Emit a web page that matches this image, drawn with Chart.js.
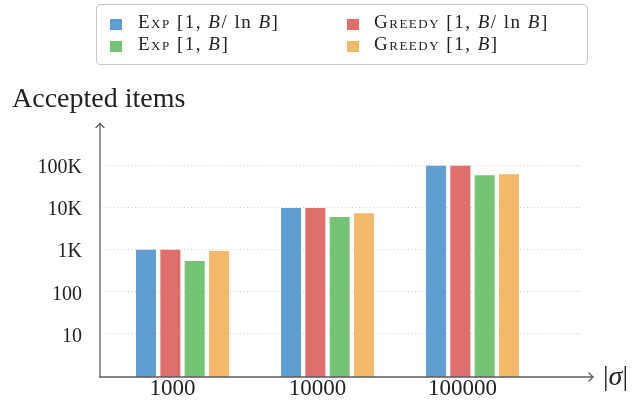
<!DOCTYPE html>
<html>
<head>
<meta charset="utf-8">
<script src="https://cdn.jsdelivr.net/npm/chart.js@4.4.0/dist/chart.umd.min.js"></script>
<style>
html,body{margin:0;padding:0;background:#fff;}
#wrap{position:relative;width:632px;height:403px;overflow:hidden;}
canvas{position:absolute;left:0;top:0;}
#legend{position:absolute;left:96px;top:4px;width:492px;height:61px;border:1px solid #c8c8c8;border-radius:4px;box-sizing:border-box;}
.sw{position:absolute;width:12px;height:11px;}
.lt{position:absolute;font-family:"Liberation Serif",serif;font-size:19px;line-height:19px;letter-spacing:1.5px;color:#222;white-space:nowrap;}
.sc{font-variant:small-caps;}
#xlab{position:absolute;left:603px;top:362px;font-family:"Liberation Serif",serif;font-size:28px;line-height:28px;color:#222;white-space:nowrap;}
</style>
</head>
<body>
<div id="wrap">
  <canvas id="c" width="632" height="403"></canvas>
  <div id="legend"></div>
  <div id="xlab">|<i>σ</i>|</div>
</div>
<script>
// ---- data ----
const categories = ['1000', '10000', '100000'];
const seriesNames = ['Exp [1, B/ ln B]', 'Greedy [1, B/ ln B]', 'Exp [1, B]', 'Greedy [1, B]'];
const expLnB    = [985, 9700, 97000];
const greedyLnB = [985, 9700, 97000];
const expB      = [540, 5900, 58000];
const greedyB   = [930, 7300, 61000];
const yTickValues = [10, 100, 1000, 10000, 100000];
const yTickLabels = ['10', '100', '1K', '10K', '100K'];
const colors = ['#5f9dd3', '#e06e6a', '#75c475', '#f2b96a'];

const seriesValues = [expLnB, greedyLnB, expB, greedyB];
const serif = '"Liberation Serif", "Times New Roman", serif';

const datasets = seriesValues.map((vals, i) => ({
  label: seriesNames[i],
  data: vals.map((v, j) => ({x: j, y: v})),
  backgroundColor: colors[i],
  borderWidth: 0,
  categoryPercentage: 0.671,
  barPercentage: 0.822
}));

const axisArrows = {
  id: 'axisArrows',
  afterDatasetsDraw(chart) {
    const {ctx, chartArea: a} = chart;
    ctx.save();
    ctx.strokeStyle = '#5c5c5c';
    ctx.lineWidth = 1.3;
    ctx.lineCap = 'round';
    const xb = Math.round(a.bottom);
    const xl = a.left;
    ctx.beginPath();
    ctx.moveTo(xl, xb); ctx.lineTo(a.right + 10, xb);
    ctx.stroke();
    ctx.beginPath();
    ctx.moveTo(a.right + 6, xb - 4); ctx.lineTo(a.right + 10, xb); ctx.lineTo(a.right + 6, xb + 4);
    ctx.stroke();
    ctx.beginPath();
    ctx.moveTo(xl, xb); ctx.lineTo(xl, a.top - 0.5);
    ctx.stroke();
    ctx.beginPath();
    ctx.moveTo(xl - 4, a.top + 3.5); ctx.lineTo(xl, a.top - 0.5); ctx.lineTo(xl + 4, a.top + 3.5);
    ctx.stroke();
    ctx.restore();
  }
};

const htmlLegend = {
  id: 'htmlLegend',
  afterUpdate(chart) {
    const box = document.getElementById('legend');
    box.innerHTML = '';
    const colX = [13, 250];
    const textX = [41, 277];
    const rowTop = [14, 35.5];
    const rowText = [6.5, 29.1];
    chart.data.datasets.forEach((ds, i) => {
      const r = Math.floor(i / 2), c = i % 2;
      const sw = document.createElement('div');
      sw.className = 'sw';
      sw.style.left = colX[c] + 'px';
      sw.style.top = rowTop[r] + 'px';
      sw.style.background = ds.backgroundColor;
      box.appendChild(sw);
      const t = document.createElement('div');
      t.className = 'lt';
      t.style.left = textX[c] + 'px';
      t.style.top = rowText[r] + 'px';
      const parts = ds.label.split(' ');
      const name = parts.shift();
      const rest = parts.join(' ').replace(/B/g, '<i>B</i>');
      t.innerHTML = '<span class="sc">' + name + '</span>&nbsp;' + rest;
      box.appendChild(t);
    });
  }
};

new Chart(document.getElementById('c'), {
  type: 'bar',
  data: { datasets },
  options: {
    responsive: false,
    animation: false,
    layout: { padding: { left: 12, right: 49, top: 0, bottom: 0 } },
    plugins: {
      legend: { display: false },
      tooltip: { enabled: false },
      title: {
        display: true,
        text: 'Accepted items',
        align: 'start',
        color: '#222',
        font: { family: serif, size: 28, weight: 'normal' },
        padding: { top: 83, bottom: 7.4 }
      }
    },
    scales: {
      x: {
        type: 'linear',
        bounds: 'data',
        offset: false,
        min: -0.569,
        max: 2.762,
        grid: { display: false, drawTicks: false, offset: false },
        border: { display: false },
        afterBuildTicks: (s) => { s.ticks = categories.map((_, i) => ({ value: i })); },
        afterFit: (s) => { s.height = 26; },
        ticks: {
          padding: -2,
          labelOffset: -10,
          color: '#222',
          font: { family: serif, size: 23 },
          maxRotation: 0,
          callback: (v) => categories[v]
        }
      },
      y: {
        type: 'logarithmic',
        bounds: 'data',
        min: 0.957,
        max: 946000,
        grid: { color: '#cfcfcf', lineWidth: 1, drawTicks: false },
        border: { display: false, dash: [1, 2.5] },
        afterBuildTicks: (s) => { s.ticks = yTickValues.map(v => ({ value: v })); },
        afterFit: (s) => { s.width = 88; s.paddingTop = 0; s.paddingBottom = 0; },
        ticks: {
          padding: 18,
          labelOffset: 2.5,
          color: '#222',
          font: { family: serif, size: 20 },
          callback: (v) => { const k = yTickValues.indexOf(v); return k >= 0 ? yTickLabels[k] : ''; }
        }
      }
    }
  },
  plugins: [axisArrows, htmlLegend]
});
</script>
</body>
</html>
